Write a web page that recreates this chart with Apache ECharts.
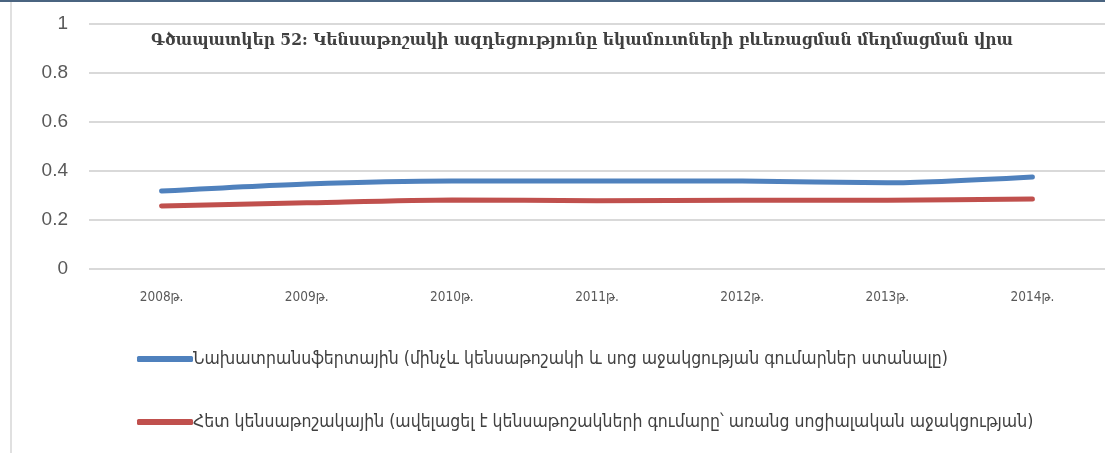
<!DOCTYPE html>
<html>
<head>
<meta charset="utf-8">
<script src="https://cdn.jsdelivr.net/npm/echarts@6/dist/echarts.min.js"></script>
<style>
  html, body { margin: 0; padding: 0; background: #fff; }
  #chart { width: 1105px; height: 453px; }
</style>
</head>
<body>
<div id="chart"></div>
<script>
// Chart data
const titleText = 'Գծապատկեր 52: Կենսաթոշակի ազդեցությունը եկամուտների բևեռացման մեղմացման վրա';
const years = ['2008թ.', '2009թ.', '2010թ.', '2011թ.', '2012թ.', '2013թ.', '2014թ.'];
const seriesNames = [
  'Նախատրանսֆերտային (մինչև կենսաթոշակի և սոց աջակցության գումարներ ստանալը)',
  'Հետ կենսաթոշակային (ավելացել է կենսաթոշակների գումարը՝ առանց սոցիալական աջակցության)'
];
const preTransfer = [0.318, 0.347, 0.359, 0.359, 0.359, 0.352, 0.376];
const postPension = [0.257, 0.270, 0.282, 0.279, 0.281, 0.281, 0.286];
const yTicks = { min: 0, max: 1, interval: 0.2 };

const colors = ['#4f81bd', '#c0504d'];
const chart = echarts.init(document.getElementById('chart'), null, { renderer: 'canvas' });

chart.setOption({
  animation: false,
  backgroundColor: '#ffffff',
  title: {
    text: titleText,
    left: 577,
    textAlign: 'center',
    top: 27,
    textStyle: { fontFamily: 'DejaVu Serif Condensed, DejaVu Serif', fontSize: 17.3, fontWeight: 'bold', color: '#404040' }
  },
  grid: { left: 89, right: -6, top: 24, height: 245, containLabel: false },
  xAxis: {
    type: 'category',
    data: years,
    boundaryGap: true,
    axisLine: { show: false },
    axisTick: { show: false },
    axisLabel: { margin: 21, fontFamily: 'DejaVu Sans Condensed, DejaVu Sans', fontSize: 13.5, color: '#595959' }
  },
  yAxis: {
    type: 'value',
    min: yTicks.min,
    max: yTicks.max,
    interval: yTicks.interval,
    axisLine: { show: false },
    axisTick: { show: false },
    axisLabel: { margin: 21, fontFamily: 'Liberation Sans', fontSize: 19, color: '#595959' },
    splitLine: { lineStyle: { color: '#d9d9d9', width: 2 } }
  },
  legend: {
    orient: 'vertical',
    left: 132,
    top: 345,
    itemGap: 45,
    itemWidth: 56,
    itemHeight: 6,
    icon: 'roundRect',
    textStyle: { fontFamily: 'DejaVu Sans Condensed, DejaVu Sans', fontSize: 17.5, color: '#404040', padding: [0, 0, 0, -5] },
    data: seriesNames
  },
  series: [
    {
      name: seriesNames[0], type: 'line', data: preTransfer, smooth: 0.25,
      showSymbol: false, symbol: 'none',
      lineStyle: { color: colors[0], width: 5, cap: 'round' },
      itemStyle: { color: colors[0] }
    },
    {
      name: seriesNames[1], type: 'line', data: postPension, smooth: 0.25,
      showSymbol: false, symbol: 'none',
      lineStyle: { color: colors[1], width: 5, cap: 'round' },
      itemStyle: { color: colors[1] }
    }
  ],
  graphic: [
    { type: 'rect', shape: { x: 0, y: 0, width: 1105, height: 2 }, style: { fill: '#4a6480' }, silent: true },
    { type: 'rect', shape: { x: 10, y: 2, width: 2, height: 451 }, style: { fill: '#e0e0e0' }, silent: true }
  ]
});
</script>
</body>
</html>
